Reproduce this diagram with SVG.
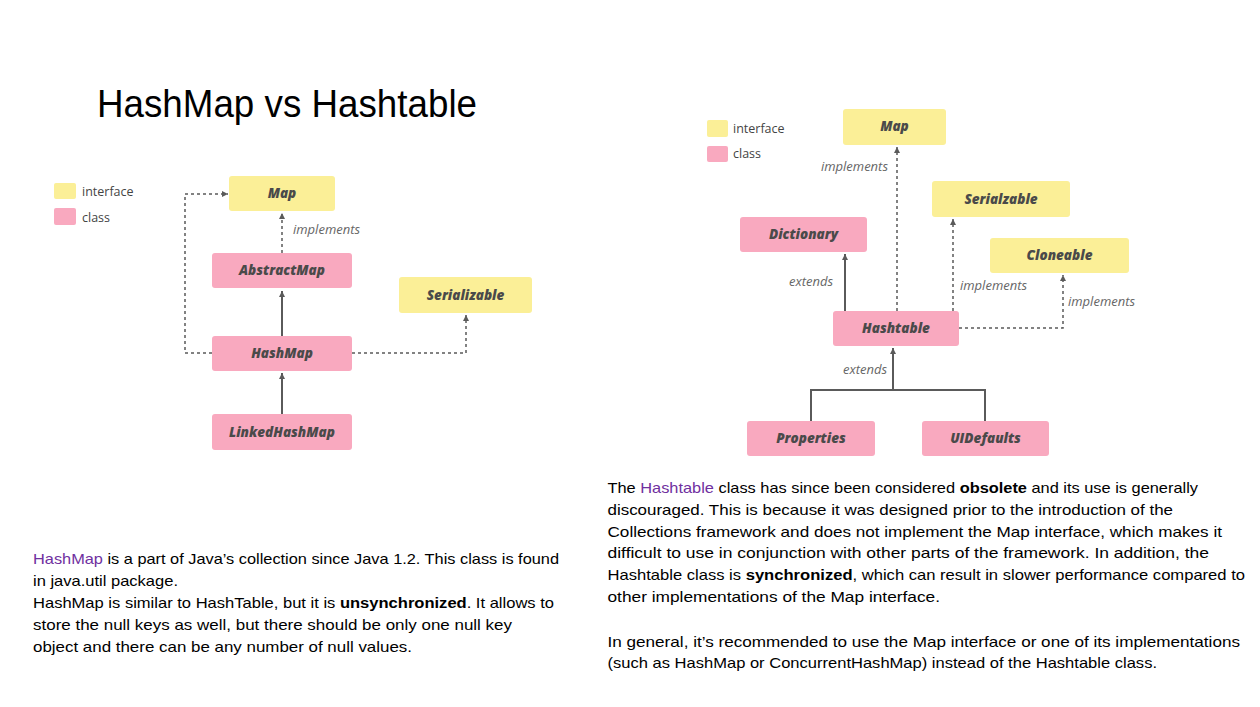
<svg xmlns="http://www.w3.org/2000/svg" width="1260" height="707" viewBox="0 0 1260 707">
<style>
.bg{fill:#ffffff}
.title{font-family:"Liberation Sans",Arial,sans-serif;font-size:38px;fill:#000}
.body{font-family:"Liberation Sans",Arial,sans-serif;font-size:14.5px;fill:#000}
.hl{fill:#7030a0}
.b{font-weight:bold}
.iface{fill:#fbef97}
.cls{fill:#f9a9bf}
.lbl{font-family:"Open Sans","Noto Sans",sans-serif;font-size:13.5px;font-weight:800;font-style:italic;fill:#4a4a4a;text-anchor:middle}
.leg{font-family:"Open Sans","Liberation Sans",sans-serif;font-size:12.5px;fill:#444}
.elab{font-family:"Open Sans","Liberation Sans",sans-serif;font-size:13px;font-style:italic;fill:#666}
.solid{fill:none;stroke:#5a5a5a;stroke-width:2;marker-end:url(#arr)}
.dash{fill:none;stroke:#5a5a5a;stroke-width:1.5;stroke-dasharray:3 3;marker-end:url(#arr)}
.plain{fill:none;stroke:#5a5a5a;stroke-width:2}
</style>
<defs>
<marker id="arr" viewBox="0 0 10 10" refX="10" refY="5" markerWidth="6" markerHeight="6" markerUnits="userSpaceOnUse" orient="auto">
<path d="M0,0 L10,5 L0,10 z" fill="#5a5a5a"/>
</marker>
</defs>
<rect class="bg" x="0" y="0" width="1260" height="707"/>

<text class="title" x="97" y="117" textLength="380" lengthAdjust="spacingAndGlyphs">HashMap vs Hashtable</text>

<!-- Left legend -->
<g id="legend-left">
<rect class="iface" x="54" y="183" width="22" height="16" rx="2"/>
<text class="leg" x="82" y="196">interface</text>
<rect class="cls" x="54" y="208" width="22" height="17" rx="2"/>
<text class="leg" x="82" y="222">class</text>
</g>

<!-- Left connectors -->
<g id="connectors-left">
<path class="dash" d="M282,253 V213"/>
<path class="solid" d="M282,336 V291"/>
<path class="solid" d="M282,414 V373"/>
<path class="dash" d="M212,353 H185 V194 H228"/>
<path class="dash" d="M352,353 H466 V315"/>
<text class="elab" x="293" y="234">implements</text>
</g>

<!-- Left nodes -->
<g id="l-map"><rect class="iface" x="229" y="176" width="106" height="35" rx="3"/><text class="lbl" x="282" y="198">Map</text></g>
<g id="l-abstractmap"><rect class="cls" x="212" y="253" width="140" height="35" rx="3"/><text class="lbl" x="282" y="275">AbstractMap</text></g>
<g id="l-serializable"><rect class="iface" x="399" y="277" width="133" height="36" rx="3"/><text class="lbl" x="465.5" y="300">Serializable</text></g>
<g id="l-hashmap"><rect class="cls" x="212" y="336" width="140" height="35" rx="3"/><text class="lbl" x="282" y="358">HashMap</text></g>
<g id="l-linkedhashmap"><rect class="cls" x="212" y="414" width="140" height="36" rx="3"/><text class="lbl" x="282" y="437">LinkedHashMap</text></g>

<!-- Right legend -->
<g id="legend-right">
<rect class="iface" x="707" y="120" width="21" height="17" rx="2"/>
<text class="leg" x="733" y="133">interface</text>
<rect class="cls" x="707" y="146" width="21" height="16" rx="2"/>
<text class="leg" x="733" y="158">class</text>
</g>

<!-- Right connectors -->
<g id="connectors-right">
<path class="dash" d="M897,311 V147"/>
<path class="solid" d="M845,311 V254"/>
<path class="dash" d="M953,311 V219"/>
<path class="dash" d="M959,328 H1063 V275"/>
<path class="plain" d="M811,421 V390 H985 V421"/>
<path class="solid" d="M893,390 V348"/>
<text class="elab" x="888" y="171" text-anchor="end">implements</text>
<text class="elab" x="833" y="286" text-anchor="end">extends</text>
<text class="elab" x="960" y="290">implements</text>
<text class="elab" x="1068" y="306">implements</text>
<text class="elab" x="887" y="374" text-anchor="end">extends</text>
</g>

<!-- Right nodes -->
<g id="r-map"><rect class="iface" x="843" y="109" width="103" height="36" rx="3"/><text class="lbl" x="894.5" y="131">Map</text></g>
<g id="r-serialzable"><rect class="iface" x="932" y="181" width="138" height="36" rx="3"/><text class="lbl" x="1001" y="204">Serialzable</text></g>
<g id="r-dictionary"><rect class="cls" x="740" y="217" width="127" height="35" rx="3"/><text class="lbl" x="803.5" y="239">Dictionary</text></g>
<g id="r-cloneable"><rect class="iface" x="990" y="238" width="139" height="35" rx="3"/><text class="lbl" x="1059.5" y="260">Cloneable</text></g>
<g id="r-hashtable"><rect class="cls" x="833" y="311" width="126" height="35" rx="3"/><text class="lbl" x="896" y="333">Hashtable</text></g>
<g id="r-properties"><rect class="cls" x="747" y="421" width="128" height="35" rx="3"/><text class="lbl" x="811" y="443">Properties</text></g>
<g id="r-uidefaults"><rect class="cls" x="922" y="421" width="127" height="35" rx="3"/><text class="lbl" x="985.5" y="443">UIDefaults</text></g>

<!-- Left body text -->
<g id="text-left">
<text class="body" x="33" y="564" textLength="526" lengthAdjust="spacingAndGlyphs"><tspan class="hl">HashMap</tspan> is a part of Java’s collection since Java 1.2. This class is found</text>
<text class="body" x="33" y="586" textLength="145" lengthAdjust="spacingAndGlyphs">in java.util package.</text>
<text class="body" x="33" y="608" textLength="521" lengthAdjust="spacingAndGlyphs">HashMap is similar to HashTable, but it is <tspan class="b">unsynchronized</tspan>. It allows to</text>
<text class="body" x="33" y="630" textLength="479" lengthAdjust="spacingAndGlyphs">store the null keys as well, but there should be only one null key</text>
<text class="body" x="33" y="652" textLength="379" lengthAdjust="spacingAndGlyphs">object and there can be any number of null values.</text>
</g>

<!-- Right body text -->
<g id="text-right">
<text class="body" x="607.5" y="493" textLength="590.5" lengthAdjust="spacingAndGlyphs">The <tspan class="hl">Hashtable</tspan> class has since been considered <tspan class="b">obsolete</tspan> and its use is generally</text>
<text class="body" x="607.5" y="515" textLength="565.5" lengthAdjust="spacingAndGlyphs">discouraged. This is because it was designed prior to the introduction of the</text>
<text class="body" x="607.5" y="537" textLength="614.5" lengthAdjust="spacingAndGlyphs">Collections framework and does not implement the Map interface, which makes it</text>
<text class="body" x="607.5" y="558" textLength="601.5" lengthAdjust="spacingAndGlyphs">difficult to use in conjunction with other parts of the framework. In addition, the</text>
<text class="body" x="607.5" y="580" textLength="637.5" lengthAdjust="spacingAndGlyphs">Hashtable class is <tspan class="b">synchronized</tspan>, which can result in slower performance compared to</text>
<text class="body" x="607.5" y="602" textLength="332.5" lengthAdjust="spacingAndGlyphs">other implementations of the Map interface.</text>
<text class="body" x="607.5" y="647" textLength="632.5" lengthAdjust="spacingAndGlyphs">In general, it’s recommended to use the Map interface or one of its implementations</text>
<text class="body" x="607.5" y="668" textLength="549.5" lengthAdjust="spacingAndGlyphs">(such as HashMap or ConcurrentHashMap) instead of the Hashtable class.</text>
</g>
</svg>
